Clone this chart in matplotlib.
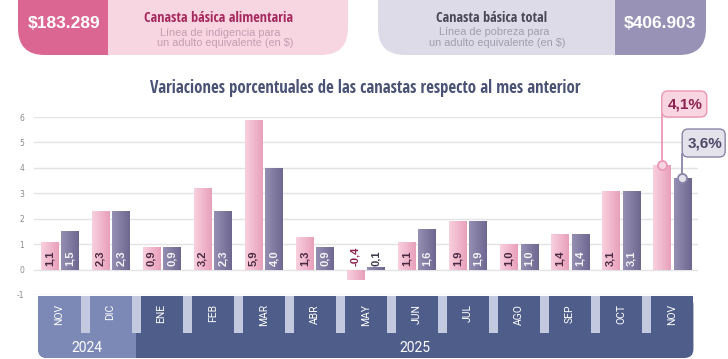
import numpy as np
import matplotlib
matplotlib.use("Agg")
import matplotlib.pyplot as plt
from matplotlib import font_manager
from matplotlib.patches import FancyBboxPatch, Rectangle
from matplotlib.colors import LinearSegmentedColormap

W, H = 728, 359

months = ["NOV", "DIC", "ENE", "FEB", "MAR", "ABR", "MAY", "JUN", "JUL", "AGO", "SEP", "OCT", "NOV"]
years = ["2024", "2025"]
months_per_year = [2, 11]
cba = [1.1, 2.3, 0.9, 3.2, 5.9, 1.3, -0.4, 1.1, 1.9, 1.0, 1.4, 3.1, 4.1]
cbt = [1.5, 2.3, 0.9, 2.3, 4.0, 0.9, 0.1, 1.6, 1.9, 1.0, 1.4, 3.1, 3.6]
cba_amount = "$183.289"
cbt_amount = "$406.903"
yticks = [-1, 0, 1, 2, 3, 4, 5, 6]

PINK_L, PINK_R = "#f9d0de", "#e8a0bb"
PURP_L, PURP_R = "#958fb3", "#6e6891"
BAND_DARK, BAND_LIGHT, BAND_SEP = "#4f5d8a", "#7c89b7", "#c3cadf"

plt.rcParams["axes.unicode_minus"] = False
_fonts = {f.name for f in font_manager.fontManager.ttflist}
COND = next((n for n in ("Open Sans Condensed", "Liberation Sans Narrow", "Roboto Condensed")
             if n in _fonts), "Roboto")
REG = "Roboto"
ARIAL = "Liberation Sans"


def fmt(v):
    return f"{v:.1f}".replace(".", ",")


def grad(ax, bars, c0, c1):
    cmap = LinearSegmentedColormap.from_list("g", [c0, c1])
    g = np.linspace(0, 1, 64).reshape(1, -1)
    for b in bars:
        x0, y0, w, h = b.get_x(), b.get_y(), b.get_width(), b.get_height()
        im = ax.imshow(g, cmap=cmap, extent=[x0, x0 + w, y0, y0 + h], aspect="auto",
                       interpolation="bilinear", zorder=b.get_zorder() + 0.1)
        im.set_clip_path(b)


def fit(fig, t, width_px):
    r = fig.canvas.get_renderer()
    t.set_fontsize(t.get_fontsize() * width_px / t.get_window_extent(r).width)


fig = plt.figure(figsize=(W / 100, H / 100), dpi=100)
fig.patch.set_facecolor("white")
ax = fig.add_axes([34 / W, 1 - 295 / H, (697.5 - 34) / W, (295 - 117) / H])
ax.set_zorder(1)
ax.patch.set_alpha(0)
ov = fig.add_axes([0, 0, 1, 1])
ov.set_zorder(2)
ov.set_xlim(0, W); ov.set_ylim(H, 0)
ov.set_autoscale_on(False)
ov.axis("off")

# bars
x = np.arange(len(months))
bp = ax.bar(x - 0.2, cba, 0.335, color=PINK_R, zorder=2)
bt = ax.bar(x + 0.2, cbt, 0.335, color=PURP_R, zorder=2)
grad(ax, bp, PINK_L, PINK_R)
grad(ax, bt, PURP_L, PURP_R)

ax.set_xlim(-0.5, 12.5)
ax.set_ylim(-1, 6)
ax.set_yticks(yticks)
ax.set_xticks([])
ax.grid(axis="y", color="#e2e2e7", lw=1.0)
ax.set_axisbelow(True)
for s in ax.spines.values():
    s.set_visible(False)
ax.tick_params(axis="y", length=0, pad=7, labelsize=5.5, labelcolor="#8a8a8a")

# value labels (last month uses callouts)
for i in range(len(months) - 1):
    ax.text(x[i] - 0.2, 0.15, fmt(cba[i]), rotation=90, ha="center", va="bottom",
            fontsize=8, fontweight="bold", family=ARIAL,
            color="#8a2148" if cba[i] < 0 else "#4a2a42", zorder=4)
    ax.text(x[i] + 0.2, 0.15, fmt(cbt[i]), rotation=90, ha="center", va="bottom",
            fontsize=8, fontweight="bold", family=ARIAL,
            color="#f5f3f8" if cbt[i] >= 0.5 else "#3d3a4d", zorder=4)


def to_px(xd, yd):
    dx, dy = ax.transData.transform((xd, yd))
    return dx, H - dy


# callouts for the latest month
last = len(months) - 1
for xd, val, dy_top, dy_bot, bw, fc, ec, tc in [
        (x[last] - 0.2, cba[last], 91, 117, 45, "#f8d5e0", "#ea98b5", "#8c2350"),
        (x[last] + 0.2, cbt[last], 129, 157, 43, "#e4e2eb", "#8a85a8", "#4d4868")]:
    px, py = to_px(xd, val)
    ov.plot([px, px], [dy_bot - 3, py], color=ec, lw=1.3, zorder=3)
    ov.add_patch(FancyBboxPatch((px, dy_top), bw, dy_bot - dy_top,
                                boxstyle="round,pad=0,rounding_size=6",
                                fc=fc, ec=ec, lw=1.0, zorder=4))
    ov.text(px + bw / 2 + 1, (dy_top + dy_bot) / 2 + 0.5, fmt(val) + "%", ha="center", va="center",
            fontsize=11, fontweight="bold", family=ARIAL, color=tc, zorder=5)
    ov.plot(px, py, "o", ms=6.5, mfc=fc, mec=ec, mew=1.3, zorder=6)

# month / year band
bl, br = to_px(-0.42, 0)[0], to_px(12.42, 0)[0]
top, bot = 296, 358
split = to_px(months_per_year[0] - 0.5, 0)[0]
ov.add_patch(FancyBboxPatch((bl, top), br - bl, bot - top, boxstyle="round,pad=0,rounding_size=9",
                            fc=BAND_DARK, ec="none", zorder=1))
ov.add_patch(Rectangle((bl, top), br - bl, 25, fc=BAND_DARK, ec="none", zorder=1))
ov.add_patch(FancyBboxPatch((bl, top), split + 15 - bl, bot - top, boxstyle="round,pad=0,rounding_size=9",
                            fc=BAND_LIGHT, ec="none", zorder=1.1))
ov.add_patch(Rectangle((bl, top), split - bl, 25, fc=BAND_LIGHT, ec="none", zorder=1.1))
ov.add_patch(Rectangle((split, top), 16, bot - top, fc=BAND_DARK, ec="none", zorder=1.2))
for i in range(len(months) - 1):
    sx = to_px(i + 0.5, 0)[0]
    ov.add_patch(Rectangle((sx - 4.5, top), 9, 37, fc=BAND_SEP, ec="none", zorder=1.3))
for i, m in enumerate(months):
    ov.text(to_px(i, 0)[0], 304, m, rotation=90, ha="center", va="top",
            fontsize=7.5, family=REG, color="white", zorder=2)
start = -0.42
for k, yr in enumerate(years):
    end = months_per_year[0] - 0.5 if k == 0 else 12.42
    ov.text((to_px(start, 0)[0] + to_px(end, 0)[0]) / 2, 348, yr, ha="center", va="center",
            fontsize=10, family=REG, color="white", zorder=2)
    start = end

# header pills
ov.add_patch(FancyBboxPatch((18, -30), 330, 85, boxstyle="round,pad=0,rounding_size=27",
                            fc="#f7d6e2", ec="none"))
ov.add_patch(FancyBboxPatch((18, -30), 115, 85, boxstyle="round,pad=0,rounding_size=27",
                            fc="#dc6692", ec="none"))
ov.add_patch(Rectangle((108, -30), 40, 85, fc="#f7d6e2", ec="none"))
ov.add_patch(FancyBboxPatch((378, -30), 328, 85, boxstyle="round,pad=0,rounding_size=27",
                            fc="#dddbe7", ec="none"))
ov.add_patch(FancyBboxPatch((590, -30), 116, 85, boxstyle="round,pad=0,rounding_size=27",
                            fc="#9893b6", ec="none"))
ov.add_patch(Rectangle((580, -30), 35, 85, fc="#dddbe7", ec="none"))

ov.text(64, 23, cba_amount, ha="center", va="center", fontsize=12.5, fontweight="bold",
        family=ARIAL, color="white")
ov.text(660, 23, cbt_amount, ha="center", va="center", fontsize=12.5, fontweight="bold",
        family=ARIAL, color="white")
t1 = ov.text(219, 18, "Canasta básica alimentaria", ha="center", va="center", fontsize=11,
             fontweight="bold", family=COND, color="#a62a5e")
ov.text(220, 32.5, "Línea de indigencia para", ha="center", va="center", fontsize=7.8,
        family=ARIAL, color="#c59cb0")
ov.text(225, 43.5, "un adulto equivalente (en $)", ha="center", va="center", fontsize=7.8,
        family=ARIAL, color="#c59cb0")
t2 = ov.text(492, 18, "Canasta básica total", ha="center", va="center", fontsize=11,
             fontweight="bold", family=COND, color="#4a4858")
ov.text(494, 32, "Línea de pobreza para", ha="center", va="center", fontsize=7.8,
        family=ARIAL, color="#a09dae")
ov.text(497, 43.5, "un adulto equivalente (en $)", ha="center", va="center", fontsize=7.8,
        family=ARIAL, color="#a09dae")
t3 = ov.text(365, 88, "Variaciones porcentuales de las canastas respecto al mes anterior",
             ha="center", va="center", fontsize=12, family=COND, color="#4a5275")
fit(fig, t1, 148)
fit(fig, t2, 111)
fit(fig, t3, 431)

fig.savefig("out.png", dpi=100, facecolor="white")
